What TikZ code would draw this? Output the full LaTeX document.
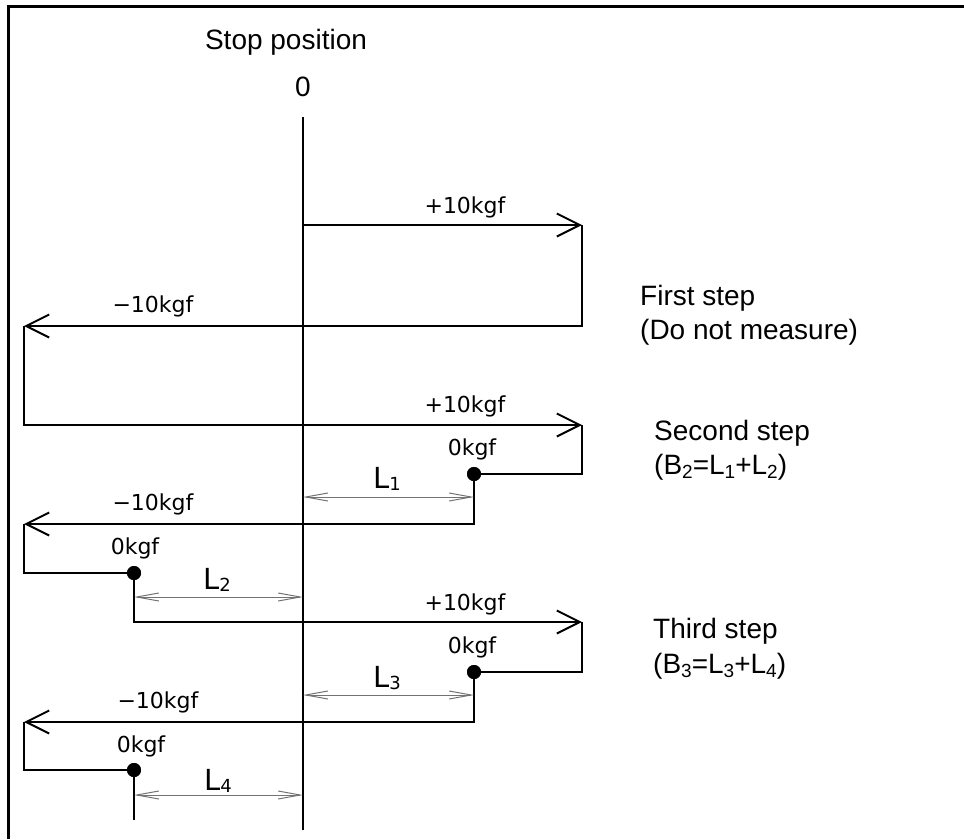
\documentclass[tikz,border=0pt]{standalone}
\usepackage{fontspec}
\setmainfont{Liberation Sans}
\newfontfamily\gothic{DejaVu Sans}
\usetikzlibrary{arrows.meta}
\newcommand\sbs[1]{\raisebox{-0.14em}{\fontsize{19}{19}\selectfont #1}}
\newcommand\lsub[1]{\raisebox{-0.05em}{\fontsize{18}{18}\selectfont #1}}
\begin{document}
\begin{tikzpicture}[x=1pt,y=-1pt,
  main/.style={line width=2.4pt, line join=miter},
  force/.style={main, -{Straight Barb[length=23pt,width=23pt,line width=2pt]}},
  dim/.style={line width=1pt, draw=black!55, {Straight Barb[length=22pt,width=8pt]}-{Straight Barb[length=22pt,width=8pt]}},
  kgf/.style={font=\gothic\fontsize{22}{22}\selectfont, inner sep=0pt},
  lab/.style={font=\gothic\fontsize{29}{29}\selectfont, inner sep=0pt},
  txt/.style={font=\fontsize{28}{34}\selectfont, inner sep=0pt, anchor=west},
  dot/.style={circle, fill=black, inner sep=0pt, minimum size=14pt}]
\useasboundingbox (0,0) rectangle (964,839);
% frame
\draw[line width=3pt] (8,839) -- (8,6) -- (964,6);
% stop position axis
\node[font=\fontsize{28}{34}\selectfont, inner sep=0pt] (stop) at (286,42) {Stop position};
\node[font=\fontsize{28}{34}\selectfont, inner sep=0pt] (zero) at (303,87) {0};
\coordinate (axtop) at (303,117);
\coordinate (axbot) at (303,830);
\draw[main] (axtop) -- (axbot);
% corner coordinates
\coordinate (s0) at (303,225);
\coordinate (a1) at (582,225);
\coordinate (b1) at (582,326);
\coordinate (a2) at (24,326);
\coordinate (b2) at (24,425);
\coordinate (a3) at (582,425);
\coordinate (b3) at (582,474);
\node[dot] (d1) at (474,474) {};
\coordinate (b4) at (474,524);
\coordinate (a4) at (24,524);
\coordinate (b5) at (24,573);
\node[dot] (d2) at (134,573) {};
\coordinate (b6) at (134,622);
\coordinate (a5) at (582,622);
\coordinate (b7) at (582,672);
\node[dot] (d3) at (474,672) {};
\coordinate (b8) at (474,722);
\coordinate (a6) at (24,722);
\coordinate (b9) at (24,770);
\node[dot] (d4) at (134,770) {};
\coordinate (end) at (134,820);
% force path
\draw[force] (s0) -- (a1);
\draw[force] (a1) -- (b1) -- (a2);
\draw[force] (a2) -- (b2) -- (a3);
\draw[main] (a3) -- (b3) -- (d1.center);
\draw[force] (d1.center) -- (b4) -- (a4);
\draw[main] (a4) -- (b5) -- (d2.center);
\draw[force] (d2.center) -- (b6) -- (a5);
\draw[main] (a5) -- (b7) -- (d3.center);
\draw[force] (d3.center) -- (b8) -- (a6);
\draw[main] (a6) -- (b9) -- (d4.center);
\draw[main] (d4.center) -- (end);
% redraw dots on top
\node[dot] at (d1) {};
\node[dot] at (d2) {};
\node[dot] at (d3) {};
\node[dot] at (d4) {};
% dimension lines
\coordinate (m1) at (303,497);
\coordinate (n1) at (474,497);
\coordinate (m2) at (303,597);
\coordinate (n2) at (134,597);
\coordinate (m3) at (303,695);
\coordinate (n3) at (474,695);
\coordinate (m4) at (303,795);
\coordinate (n4) at (134,795);
\draw[dim] (m1) -- (n1);
\draw[dim] (n2) -- (m2);
\draw[dim] (m3) -- (n3);
\draw[dim] (n4) -- (m4);
% force labels
\node[kgf] (p1) at (465,207) {+10kgf};
\node[kgf] (q1) at (153,306) {−10kgf};
\node[kgf] (p2) at (465,406) {+10kgf};
\node[kgf] (z1) at (472,449) {0kgf};
\node[kgf] (q2) at (153,504) {−10kgf};
\node[kgf] (z2) at (135,548) {0kgf};
\node[kgf] (p3) at (465,604) {+10kgf};
\node[kgf] (z3) at (472,647) {0kgf};
\node[kgf] (q3) at (158,702) {−10kgf};
\node[kgf] (z4) at (141,746) {0kgf};
% length labels
\node[lab] (L1) at (387,479) {L\lsub{1}};
\node[lab] (L2) at (217,580) {L\lsub{2}};
\node[lab] (L3) at (387,678) {L\lsub{3}};
\node[lab] (L4) at (218,781) {L\lsub{4}};
% step texts
\node[txt] (t1) at (640,298) {First step};
\node[txt] (t1b) at (640,332) {(Do not measure)};
\node[txt] (t2) at (654,433) {Second step};
\node[txt] (t2b) at (654,467) {(B\sbs{2}=L\sbs{1}+L\sbs{2})};
\node[txt] (t3) at (653,631) {Third step};
\node[txt] (t3b) at (653,666) {(B\sbs{3}=L\sbs{3}+L\sbs{4})};
\end{tikzpicture}
\end{document}
